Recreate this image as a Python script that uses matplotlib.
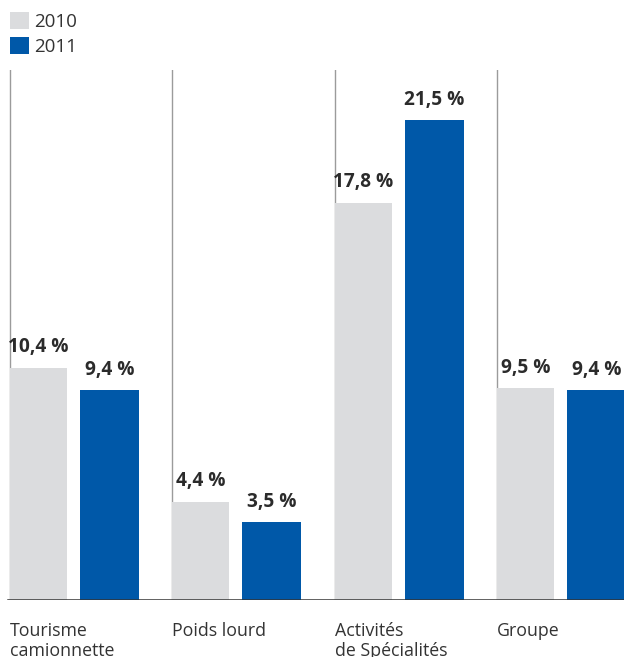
import matplotlib
matplotlib.use("Agg")
import matplotlib.pyplot as plt
from matplotlib.patches import Patch
import numpy as np

categories = ["Tourisme\ncamionnette", "Poids lourd", "Activités\nde Spécialités", "Groupe"]
series_names = ["2010", "2011"]
values_2010 = [10.4, 4.4, 17.8, 9.5]
values_2011 = [9.4, 3.5, 21.5, 9.4]
labels_2010 = ["10,4 %", "4,4 %", "17,8 %", "9,5 %"]
labels_2011 = ["9,4 %", "3,5 %", "21,5 %", "9,4 %"]

GRAY = "#dbdcde"
BLUE = "#0058a8"
TEXT = "#2b2b2b"

plt.rcParams['font.family'] = ['Open Sans', 'DejaVu Sans']

W, H, DPI = 624, 657, 100
fig = plt.figure(figsize=(W / DPI, H / DPI), dpi=DPI)

# axes: baseline at 600 px from top, top of axes at 70 px
ax_bottom_px = H - 600
ax_top_px = H - 70
ax = fig.add_axes([0, ax_bottom_px / H, 1, (ax_top_px - ax_bottom_px) / H])

group_px = 162.3
x0_px = 10
ax.set_xlim(-x0_px / group_px, (W - x0_px) / group_px)
px_per_pct = 22.33
ax.set_ylim(0, (ax_top_px - ax_bottom_px) / px_per_pct)

idx = np.arange(len(categories))
w_gray = 57 / group_px
w_blue = 59 / group_px
blue_off = 70 / group_px

ax.bar(idx, values_2010, width=w_gray, align='edge', color=GRAY, zorder=2)
ax.bar(idx + blue_off, values_2011, width=w_blue, align='edge', color=BLUE, zorder=2)

for i in idx:
    ax.axvline(i, color="#9b9b9b", lw=1.0, zorder=1)
ax.axhline(0, xmin=8 / W, xmax=1, color="#333333", lw=1.8, zorder=3)

for i in idx:
    ax.annotate(labels_2010[i], (i + w_gray / 2, values_2010[i]), xytext=(0, 11),
                textcoords='offset points', ha='center', va='baseline',
                fontsize=13.8, fontweight='bold', color=TEXT)
    ax.annotate(labels_2011[i], (i + blue_off + w_blue / 2, values_2011[i]), xytext=(0, 11),
                textcoords='offset points', ha='center', va='baseline',
                fontsize=13.8, fontweight='bold', color=TEXT)
    ax.annotate(categories[i], (i, 0), xytext=(0, -16),
                textcoords='offset points', ha='left', va='top',
                fontsize=12.8, color="#333333", linespacing=1.12)

ax.axis('off')

handles = [Patch(facecolor=GRAY, edgecolor='none'), Patch(facecolor=BLUE, edgecolor='none')]
leg = fig.legend(handles, series_names, loc='upper left',
                 bbox_to_anchor=(10 / W, 1 - 12 / H), frameon=False,
                 fontsize=13.5, handlelength=1.0, handleheight=1.0,
                 handletextpad=0.28, labelspacing=0.33, borderpad=0, borderaxespad=0)
for t in leg.get_texts():
    t.set_color("#333333")

fig.savefig("out.png", dpi=DPI, facecolor="white")
